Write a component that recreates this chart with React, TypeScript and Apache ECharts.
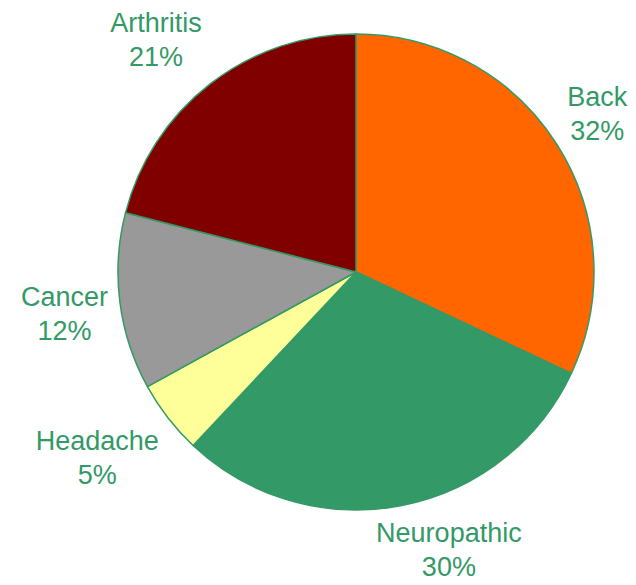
import React, { useEffect, useRef } from "react";
import * as echarts from "echarts";

const categories = ["Back", "Neuropathic", "Headache", "Cancer", "Arthritis"];
const values = [32, 30, 5, 12, 21];
const colors = ["#FF6600", "#339966", "#FFFF99", "#999999", "#800000"];
// small label nudges (px) applied after the automatic outside placement
const labelNudge: [number, number][] = [
  [-5, -2],
  [38, -10],
  [-8, -8],
  [4, 5],
  [-15, 6],
];

const CX = 356;
const CY = 272;
const R = 238;
const PAD = 13;
const FONT_SIZE = 27;
const LINE_H = 34;
const FONT = "Liberation Sans, Arial, sans-serif";

export default function App() {
  const ref = useRef<HTMLDivElement>(null);
  useEffect(() => {
    if (!ref.current) return;
    const chart = echarts.init(ref.current, null, { renderer: "svg" });
    const total = values.reduce((a, b) => a + b, 0);
    const mids: number[] = [];
    let acc = 0;
    values.forEach((v) => {
      mids.push(((acc + v / 2) / total) * Math.PI * 2);
      acc += v;
    });
    const ctx = document.createElement("canvas").getContext("2d")!;
    ctx.font = `${FONT_SIZE}px ${FONT}`;
    const halfW = categories.map((c, i) =>
      Math.max(ctx.measureText(c).width, ctx.measureText(values[i] + "%").width) / 2
    );
    const halfH = 36 * 0.8;
    chart.setOption({
      animation: false,
      backgroundColor: "#ffffff",
      series: [
        {
          type: "pie",
          center: [CX, CY],
          radius: R,
          startAngle: 90,
          clockwise: true,
          avoidLabelOverlap: false,
          data: categories.map((name, i) => ({
            name,
            value: values[i],
            itemStyle: { color: colors[i] },
          })),
          itemStyle: { borderColor: "#339966", borderWidth: 1.5 },
          label: {
            show: true,
            position: "outside",
            formatter: "{b}\n{c}%",
            color: "#339966",
            fontSize: FONT_SIZE,
            lineHeight: LINE_H,
            fontFamily: FONT,
            align: "center",
            overflow: "none",
          },
          labelLine: { show: false, length: 20, length2: 0 },
          labelLayout: (params: any) => {
            const i = params.dataIndex;
            const a = mids[i];
            const ux = Math.sin(a);
            const uy = -Math.cos(a);
            const d = R + PAD + Math.abs(ux) * halfW[i] + Math.abs(uy) * halfH;
            return {
              x: CX + ux * d + labelNudge[i][0],
              y: CY + uy * d + labelNudge[i][1],
              align: "center",
              verticalAlign: "middle",
            };
          },
          emphasis: { disabled: true },
        },
      ],
    });
    return () => chart.dispose();
  }, []);
  return (
    <div
      ref={ref}
      style={{ position: "absolute", left: 0, top: 0, width: 636, height: 585 }}
    />
  );
}
